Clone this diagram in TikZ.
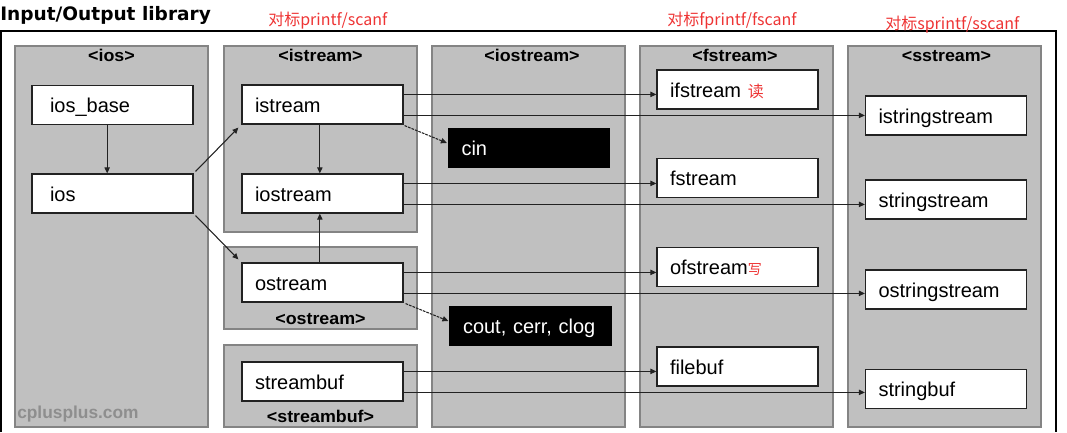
\documentclass[tikz,border=0pt]{standalone}
\usepackage{fontspec}
\setmainfont{Liberation Sans}
\newfontfamily\cjk{Noto Sans CJK SC}
\newfontfamily\titlefont{DejaVu Sans}
\newfontfamily\hdrfont[FakeStretch=1.05]{Liberation Sans}
\usetikzlibrary{arrows.meta}
\definecolor{colGray}{RGB}{192,192,192}
\definecolor{colEdge}{RGB}{132,132,132}
\definecolor{noteRed}{RGB}{238,52,52}
\definecolor{lineDark}{RGB}{34,34,34}
\definecolor{markGray}{RGB}{142,142,142}

\begin{document}
\begin{tikzpicture}[x=0.75pt,y=-0.75pt,
    column/.style={draw=colEdge, fill=colGray, line width=1.9pt},
    classbox/.style={draw=lineDark, fill=white, line width=0.9pt,
      minimum height=29.25pt, inner xsep=9.75pt, text width=101.25pt,
      align=left, font=\fontsize{15}{15}\selectfont,
      text height=12.5pt, text depth=1.25pt},
    basebox/.style={classbox, inner xsep=13.5pt, text width=93.75pt},
    objbox/.style={classbox, fill=black, draw=black, text=white},
    header/.style={anchor=base, inner sep=0pt,
      font=\hdrfont\bfseries\fontsize{12.75}{12.75}\selectfont},
    note/.style={anchor=base west, inner sep=0pt, text=noteRed,
      font=\cjk\fontsize{12}{12}\selectfont},
    arrow/.style={draw=lineDark, line width=0.8pt,
      -{Triangle[length=4.5pt,width=4pt]}},
    dasharrow/.style={arrow, dash pattern=on 2pt off 0.8pt}]
  \useasboundingbox (0,0) rectangle (1067,432);

  % frame and titles
  \draw[line width=1pt] (1,432) -- (1,31) -- (1056,31) -- (1056,432);
  \node[anchor=base west, inner sep=0pt,
    font=\titlefont\bfseries\fontsize{13.9}{14}\selectfont] (title) at (0,21) {Input/Output library};
  \node[note] (notec) at (268,26) {对标printf/scanf};
  \node[note] (notef) at (667,25) {对标fprintf/fscanf};
  \node[note] (notes) at (885,29) {对标sprintf/sscanf};

  % header columns
  \draw[column] (15,46) rectangle (208,427);
  \draw[column] (224,46) rectangle (417,232);
  \draw[column] (224,247) rectangle (417,329);
  \draw[column] (224,345) rectangle (417,427);
  \draw[column] (432,46) rectangle (625,427);
  \draw[column] (640,46) rectangle (833,427);
  \draw[column] (848,46) rectangle (1041,427);

  \node[header] (hios) at (111.5,61) {<ios>};
  \node[header] (histream) at (320.5,61) {<istream>};
  \node[header] (hostream) at (320.5,324) {<ostream>};
  \node[header] (hstreambuf) at (320.5,422) {<streambuf>};
  \node[header] (hiostream) at (532,61) {<iostream>};
  \node[header] (hfstream) at (735,61) {<fstream>};
  \node[header] (hsstream) at (946.5,61) {<sstream>};

  \node[anchor=base west, inner sep=0pt, text=markGray,
    font=\bfseries\fontsize{13}{13}\selectfont] (mark) at (17,418) {cplusplus.com};

  % classes
  \node[basebox] (iosbase) at (112.5,105) {ios\_base};
  \node[basebox] (ios) at (112.5,193.5) {ios};
  \node[classbox] (istream) at (322.5,104.5) {istream};
  \node[classbox] (iostream) at (322.5,193.5) {iostream};
  \node[classbox] (ostream) at (322.5,282.5) {ostream};
  \node[classbox] (streambuf) at (322.5,381.5) {streambuf};
  \node[objbox] (cin) at (529,148) {cin};
  \node[objbox] (cout) at (530.5,326) {cout, cerr, clog};
  \node[classbox] (ifstream) at (737.5,89.5) {ifstream {\cjk\color{noteRed}\fontsize{12}{12}\selectfont 读}};
  \node[classbox] (fstream) at (737.5,178) {fstream};
  \node[classbox] (ofstream) at (737.5,267) {ofstream{\cjk\color{noteRed}\fontsize{10.5}{10.5}\selectfont 写}};
  \node[classbox] (filebuf) at (737.5,366.5) {filebuf};
  \node[classbox] (istringstream) at (946,115.5) {istringstream};
  \node[classbox] (stringstream) at (946,199.5) {stringstream};
  \node[classbox] (ostringstream) at (946,289.5) {ostringstream};
  \node[classbox] (stringbuf) at (946,389) {stringbuf};

  % inheritance
  \draw[arrow] ([xshift=-4pt]iosbase.south) -- ([xshift=-4pt]ios.north);
  \draw[arrow] ([shift={(2,-2)}]ios.north east) -- ([shift={(-3,3)}]istream.south west);
  \draw[arrow] ([shift={(2,2)}]ios.south east) -- ([shift={(-3,-3)}]ostream.north west);
  \draw[arrow] ([xshift=-2pt]istream.south) -- ([xshift=-2pt]iostream.north);
  \draw[arrow] ([xshift=-2pt]ostream.north) -- ([xshift=-2pt]iostream.south);
  \draw[dasharrow] ([shift={(1,1)}]istream.south east) -- ([shift={(-1,-5)}]cin.west);
  \draw[dasharrow] ([shift={(2,1)}]ostream.south east) -- ([shift={(-1,-5)}]cout.west);

  % to file and string streams
  \foreach \src/\fto/\sto in {istream/ifstream/istringstream, iostream/fstream/stringstream,
      ostream/ofstream/ostringstream, streambuf/filebuf/stringbuf} {
    \draw[arrow] ([yshift=-7.5pt]\src.north east) -- ([yshift=-7.5pt]\src.north east -| \fto.west);
    \draw[arrow] ([yshift=-23.25pt]\src.north east) -- ([yshift=-23.25pt]\src.north east -| \sto.west);
  }
\end{tikzpicture}
\end{document}
